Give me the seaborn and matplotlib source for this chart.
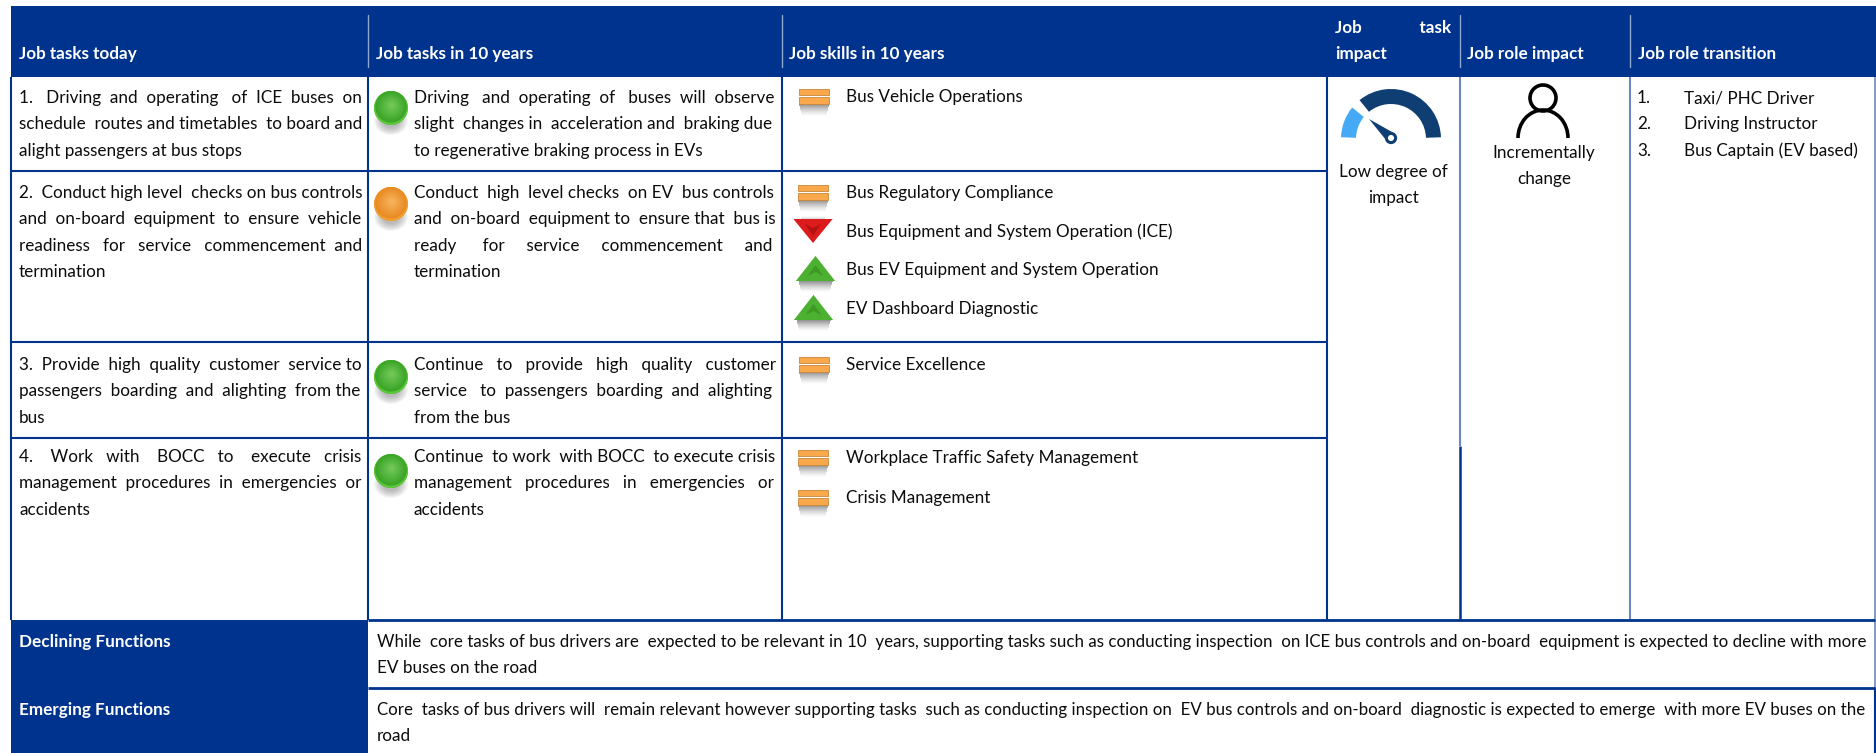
import numpy as np
import pandas as pd
import seaborn as sns
import matplotlib.pyplot as plt
from matplotlib.colors import to_rgb
from matplotlib.patches import Rectangle, Circle, Ellipse, Polygon, Wedge, Arc
from matplotlib.path import Path

# Table content
headers = ["Job tasks today", "Job tasks in 10 years", "Job skills in 10 years",
           "Job role impact", "Job role transition"]
tasks_today = [
    ["1. Driving and operating of ICE buses on", "schedule routes and timetables to board and", "alight passengers at bus stops"],
    ["2. Conduct high level checks on bus controls", "and on-board equipment to ensure vehicle", "readiness for service commencement and", "termination"],
    ["3. Provide high quality customer service to", "passengers boarding and alighting from the", "bus"],
    ["4. Work with BOCC to execute crisis", "management procedures in emergencies or", "accidents"],
]
tasks_future = [
    ["Driving and operating of buses will observe", "slight changes in acceleration and braking due", "to regenerative braking process in EVs"],
    ["Conduct high level checks on EV bus controls", "and on-board equipment to ensure that bus is", "ready for service commencement and", "termination"],
    ["Continue to provide high quality customer", "service to passengers boarding and alighting", "from the bus"],
    ["Continue to work with BOCC to execute crisis", "management procedures in emergencies or", "accidents"],
]
task_status = ["same", "changed", "same", "same"]
skills = ["Bus Vehicle Operations", "Bus Regulatory Compliance",
          "Bus Equipment and System Operation (ICE)", "Bus EV Equipment and System Operation",
          "EV Dashboard Diagnostic", "Service Excellence",
          "Workplace Traffic Safety Management", "Crisis Management"]
skill_trend = ["flat", "flat", "down", "up", "up", "flat", "flat", "flat"]
transitions = ["Taxi/ PHC Driver", "Driving Instructor", "Bus Captain (EV based)"]
task_impact = ["Low degree of", "impact"]
role_impact = ["Incrementally", "change"]
bottom_labels = ["Declining Functions", "Emerging Functions"]
bottom_text = [
    ["While core tasks of bus drivers are expected to be relevant in 10 years, supporting tasks such as conducting inspection on ICE bus controls and on-board equipment is expected to decline with more",
     "EV buses on the road"],
    ["Core tasks of bus drivers will remain relevant however supporting tasks such as conducting inspection on EV bus controls and on-board diagnostic is expected to emerge with more EV buses on the",
     "road"],
]

# Layout, in pixels of the output
W, H = 1876, 753
col_x = [11, 368, 782, 1327, 1460, 1630, 1875]
row_y = [77, 171, 342, 438, 620, 688, 753]
task_first_y = [97, 192, 364, 456]
skill_y = [96, 192, 231, 269, 308, 364, 457, 497]
icon_x = [814, 813, 813, 815.5, 813.5, 814, 813, 813]
ball_y = [108, 204, 377, 471]
line_h = 26.2

navy = "#00338d"
pale = "#6a88c0"
ink = "#0c0c0c"

sns.set_theme(style="white")
plt.rcParams["font.family"] = ["Lato", "DejaVu Sans"]
fs = 12.3

fig = plt.figure(figsize=(W / 100, H / 100), dpi=100)
ax = fig.add_axes([0, 0, 1, 1])
ax.axis("off")
renderer = fig.canvas.get_renderer()


def put(x, y, s, **kw):
    kw.setdefault("color", ink)
    kw.setdefault("fontsize", fs)
    return ax.text(x, y + 6.2, s, va="baseline", **kw)


def justified(x, y, s, right, **kw):
    # pads the gaps with spaces until the line reaches the right edge
    t = put(x, y, s, **kw)
    words = s.split(" ")
    w = t.get_window_extent(renderer).width
    t.set_text("a a")
    wide = t.get_window_extent(renderer).width
    t.set_text("aa")
    space = wide - t.get_window_extent(renderer).width
    m = len(words) - 1
    n = max(int(round((right - x - w) / space)), 0)
    gaps = [1 + n // m] * m
    for i in np.linspace(0, m, n % m, endpoint=False).astype(int):
        gaps[i] += 1
    out = words[0]
    for g, word in zip(gaps, words[1:]):
        out += " " * g + word
    t.set_text(out)
    return t


def blur(x0, x1, y0, y1):
    # grey shadow that fades out from y0 towards y1
    steps = int(abs(y1 - y0))
    sign = 1 if y1 > y0 else -1
    for k in range(steps):
        f = k / steps
        ax.add_patch(Rectangle((x0 + 3 * f, y0 + sign * k), x1 - x0 - 6 * f, 1, fc="#505050", ec="none",
                               alpha=0.6 * (1 - f) ** 1.4, zorder=2))


def shade_ball(x, y, base, light, rim):
    for k in range(8):
        ax.add_patch(Ellipse((x, y + 13), 34 - 2.5 * k, 28 - 2 * k, fc="#555555", ec="none", alpha=0.06, zorder=2))
    ax.add_patch(Circle((x, y), 17, fc=rim, ec="none", zorder=3))
    steps = 16
    for k in range(steps):
        f = k / (steps - 1)
        c = np.array(to_rgb(base)) * (1 - f) + np.array(to_rgb(light)) * f
        ax.add_patch(Circle((x + 0.8 * f, y - 1.2 - 1.5 * f), 15.8 * (1 - f) + 1.5 * f, fc=c, ec="none", zorder=3))


ax.add_patch(Rectangle((0, 0), W, H, fc="white", ec="none", zorder=0))

# navy header band and label cells
ax.add_patch(Rectangle((col_x[0], 6), W - col_x[0], 71, fc=navy, ec="none", zorder=1))
ax.add_patch(Rectangle((col_x[0], row_y[4]), col_x[1] - col_x[0], H - row_y[4], fc=navy, ec="none", zorder=1))

# header dividers
for x in [col_x[1], col_x[2], col_x[4], col_x[5]]:
    ax.plot([x, x], [15, 67], color="#8fa6d0", lw=1, zorder=2)

# table rules
for x in col_x[:4]:
    ax.plot([x, x], [row_y[0], row_y[4]], color=navy, lw=1.5, zorder=2, solid_capstyle="butt")
ax.plot([col_x[4], col_x[4]], [row_y[0], 446], color=pale, lw=1.5, zorder=2, solid_capstyle="butt")
ax.plot([col_x[4], col_x[4]], [446, row_y[4]], color=navy, lw=1.8, zorder=2, solid_capstyle="butt")
ax.plot([col_x[5], col_x[5]], [row_y[0], row_y[4]], color=pale, lw=1.5, zorder=2, solid_capstyle="butt")
ax.plot([col_x[6], col_x[6]], [row_y[0], row_y[5]], color=pale, lw=1.2, zorder=2, solid_capstyle="butt")
ax.plot([col_x[6], col_x[6]], [row_y[5], H], color=navy, lw=1.5, zorder=2, solid_capstyle="butt")
for y in row_y[1:4]:
    ax.plot([col_x[0], col_x[3]], [y, y], color=navy, lw=1.5, zorder=2, solid_capstyle="butt")
for y in row_y[4:6]:
    ax.plot([col_x[1], col_x[6]], [y, y], color=navy, lw=2, zorder=2, solid_capstyle="butt")

# header text
put(19, 53, headers[0], color="white", fontweight="bold")
put(376, 53, headers[1], color="white", fontweight="bold")
put(789, 53, headers[2], color="white", fontweight="bold")
justified(1335, 27, "Job task", 1452, color="white", fontweight="bold")
put(1335, 53, "impact", color="white", fontweight="bold")
put(1467, 53, headers[3], color="white", fontweight="bold")
put(1638, 53, headers[4], color="white", fontweight="bold")

# task columns, last line of each paragraph stays ragged
for y0, left, right in zip(task_first_y, tasks_today, tasks_future):
    for i, s in enumerate(left):
        yy = y0 + i * line_h
        if i < len(left) - 1:
            justified(19, yy, s, 361)
        else:
            put(19, yy, s)
    for i, s in enumerate(right):
        yy = y0 + i * line_h
        if i < len(right) - 1:
            justified(414, yy, s, 774)
        else:
            put(414, yy, s)

# status balls
balls = pd.DataFrame({"x": [391] * len(ball_y), "y": ball_y, "status": task_status})
sns.scatterplot(data=balls, x="x", y="y", hue="status", palette={"same": "#36a020", "changed": "#e8861e"},
                s=590, linewidth=0, legend=False, ax=ax, zorder=3)
for y, st in zip(ball_y, task_status):
    if st == "same":
        shade_ball(391, y, "#3aa526", "#72c858", "#5cc83a")
    else:
        shade_ball(391, y, "#e98a22", "#f6b35c", "#f0a030")

# skill icons (marker paths have y pointing up, the axes do not)
up_mark = Path([(-18, -11), (0, 12), (18, -11), (-18, -11)], closed=True)
down_mark = Path([(-18, 11), (18, 11), (0, -11), (-18, 11)], closed=True)
skill_df = pd.DataFrame({"x": icon_x, "y": skill_y, "trend": skill_trend})
tri_df = skill_df[skill_df.trend != "flat"]
for x, y, tr in zip(icon_x, skill_y, skill_trend):
    if tr == "flat":
        blur(x - 15, x + 15, y + 8, y + 20)
    elif tr == "down":
        blur(x - 14, x + 14, y - 9, y - 16)
    else:
        blur(x - 17, x + 17, y + 12, y + 23)
sns.scatterplot(data=tri_df, x="x", y="y", hue="trend", style="trend", palette={"up": "#4cb030", "down": "#dc1c1c"},
                markers={"up": up_mark, "down": down_mark}, s=800, linewidth=0, legend=False, ax=ax, zorder=3)
for x, y, tr in zip(icon_x, skill_y, skill_trend):
    if tr == "flat":
        for dy in (-7.5, 1):
            ax.add_patch(Rectangle((x - 15, y + dy), 30, 6.5, fc="#f9a94c", ec="#c9873a", lw=0.6, zorder=3))
    elif tr == "up":
        ax.add_patch(Polygon([(x - 8, y + 7), (x, y - 4), (x + 8, y + 7), (x, y + 3)], fc="#3c9a22", ec="none", zorder=3))
    else:
        ax.add_patch(Polygon([(x - 8, y - 7), (x, y + 5), (x + 8, y - 7), (x, y - 3)], fc="#b51212", ec="none", zorder=3))
for y, s in zip(skill_y, skills):
    put(846, y, s)

# gauge
dark = "#0f3f72"
ax.add_patch(Wedge((1391, 139), 50, -129, -2, width=15, fc=dark, ec="none", zorder=3))
ax.add_patch(Wedge((1391, 139), 50, -178, -141, width=15, fc="#45a9f5", ec="none", zorder=3))
ax.add_patch(Polygon([(1369, 119), (1392, 132), (1386, 140)], fc=dark, ec="none", zorder=3))
ax.add_patch(Circle((1391, 138), 4.6, fc="white", ec=dark, lw=2.2, zorder=4))
for i, s in enumerate(task_impact):
    put(1393, 171 + i * line_h, s, ha="center")

# person
ax.add_patch(Circle((1543, 98), 13, fc="none", ec="black", lw=2.6, zorder=3))
ax.add_patch(Arc((1543, 138), 50, 56, theta1=180, theta2=360, ec="black", lw=2.6, zorder=3))
for i, s in enumerate(role_impact):
    put(1544, 152 + i * line_h, s, ha="center")

# transitions
for i, s in enumerate(transitions):
    put(1637, 97 + i * line_h, f"{i + 1}.")
    put(1684, 97 + i * line_h, s)

# bottom rows
for y, label, lines in zip([641, 709], bottom_labels, bottom_text):
    put(19, y, label, color="white", fontweight="bold")
    justified(377, y, lines[0], 1867, fontsize=12.2)
    put(377, y + line_h, lines[1])

ax.set_xlim(0, W)
ax.set_ylim(H, 0)
ax.set_xlabel("")
ax.set_ylabel("")

fig.savefig("out.png", dpi=100)
